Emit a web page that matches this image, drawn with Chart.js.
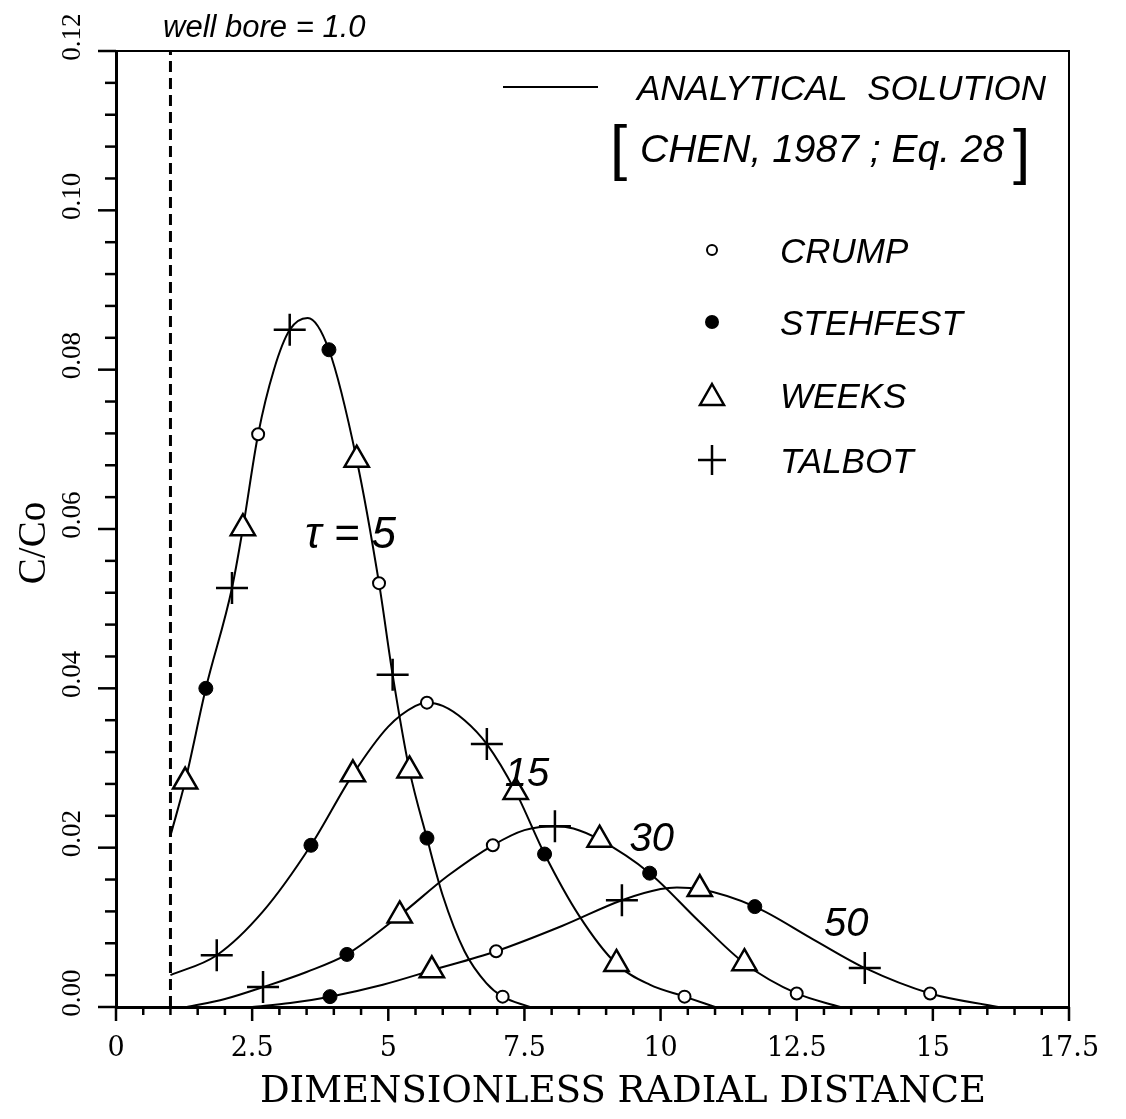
<!DOCTYPE html>
<html><head><meta charset="utf-8">
<script src="https://cdn.jsdelivr.net/npm/chart.js@4.4.0/dist/chart.umd.min.js"></script>
<style>html,body{margin:0;padding:0;background:#fff;}canvas{display:block;}</style>
</head><body>
<canvas id="c" width="1126" height="1119"></canvas>
<script>
// ---- tick labels ----
const xTickLabels = ['0','2.5','5','7.5','10','12.5','15','17.5'];
const yTickLabels = ['0.00','0.02','0.04','0.06','0.08','0.10','0.12'];
const xTitle = 'DIMENSIONLESS RADIAL DISTANCE';
const yTitle = 'C/Co';
const curveLabels = ['\u03C4 = 5','15','30','50'];
const curveLabelX = [3.47, 7.14, 9.43, 13.0];
const curveLabelY = [0.0592, 0.0291, 0.0210, 0.0103];
const wellBoreX = 1.0;

// ---- analytical solution curves ----
const tau5X  = [1.0, 1.27, 1.65, 2.13, 2.33, 2.61, 2.9, 3.19, 3.52, 3.91, 4.42, 4.83, 5.08, 5.39, 5.71, 6.0, 6.4, 6.8, 7.1, 7.6];
const tau5Y  = [0.0215, 0.0283, 0.0400, 0.0526, 0.0601, 0.0719, 0.0800, 0.0850, 0.0865, 0.0825, 0.0687, 0.0532, 0.0417, 0.0297, 0.0212, 0.0140, 0.0070, 0.0030, 0.0013, 0.0];
const tau15X = [1.0, 1.85, 2.7, 3.58, 4.35, 5.0, 5.5, 5.71, 6.0, 6.4, 6.81, 7.34, 7.87, 8.5, 9.19, 9.8, 10.44, 11.0];
const tau15Y = [0.0040, 0.0065, 0.0120, 0.0203, 0.0292, 0.0352, 0.0378, 0.0382, 0.0378, 0.0360, 0.0330, 0.0270, 0.0192, 0.0115, 0.0054, 0.0028, 0.0013, 0.0];
const tau30X = [1.3, 2.0, 2.70, 3.5, 4.24, 5.21, 6.1, 6.92, 7.5, 8.06, 8.4, 8.88, 9.80, 10.7, 11.54, 12.5, 13.3];
const tau30Y = [0.0, 0.0010, 0.0025, 0.0044, 0.0066, 0.0115, 0.0165, 0.0203, 0.0222, 0.0227, 0.0224, 0.0210, 0.0168, 0.0108, 0.0055, 0.0017, 0.0];
const tau50X = [2.5, 3.2, 3.93, 4.9, 5.8, 6.98, 8.2, 9.29, 10.0, 10.3, 10.72, 11.73, 12.8, 13.75, 14.95, 16.2];
const tau50Y = [0.0, 0.0005, 0.0013, 0.0028, 0.0046, 0.0070, 0.0102, 0.0134, 0.0148, 0.0150, 0.0148, 0.0126, 0.0085, 0.0049, 0.0017, 0.0];

// ---- numerical inversion points ----
const crumpX    = [2.61, 4.83, 7.1, 5.71, 10.44, 6.92, 12.5, 6.98, 14.95];
const crumpY    = [0.0719, 0.0532, 0.0013, 0.0382, 0.0013, 0.0203, 0.0017, 0.0070, 0.0017];
const stehfestX = [1.65, 3.91, 5.71, 3.58, 7.87, 4.24, 9.80, 3.93, 11.73];
const stehfestY = [0.0400, 0.0825, 0.0212, 0.0203, 0.0192, 0.0066, 0.0168, 0.0013, 0.0126];
const weeksX    = [1.27, 2.33, 4.42, 5.39, 4.35, 7.34, 9.19, 5.21, 8.88, 11.54, 5.8, 10.72];
const weeksY    = [0.0283, 0.0601, 0.0687, 0.0297, 0.0292, 0.0270, 0.0054, 0.0115, 0.0210, 0.0055, 0.0046, 0.0148];
const talbotX   = [2.13, 3.19, 5.08, 1.85, 6.81, 2.70, 8.06, 9.29, 13.75];
const talbotY   = [0.0526, 0.0850, 0.0417, 0.0065, 0.0330, 0.0025, 0.0227, 0.0134, 0.0049];

const legendNames = ['CRUMP','STEHFEST','WEEKS','TALBOT'];

function pts(xs, ys){ return xs.map((x,i)=>({x:x, y:ys[i]})); }

const SERIF_WIDE = '"DejaVu Serif", "Liberation Serif", serif';
const SERIF = '"Liberation Serif", "DejaVu Serif", serif';
const SANS = '"Liberation Sans", "DejaVu Sans", sans-serif';

const lineDs = (xs, ys) => ({
  type:'line', data: pts(xs, ys), borderColor:'#000', borderWidth:2, pointRadius:0,
  cubicInterpolationMode:'monotone', fill:false, order:2
});

const figurePlugin = {
  id:'figure',
  afterDraw(chart){
    const ctx = chart.ctx, a = chart.chartArea;
    const xs = chart.scales.x, ys = chart.scales.y;
    ctx.save();
    // frame top / right
    ctx.strokeStyle = '#000'; ctx.lineWidth = 2;
    ctx.beginPath();
    ctx.moveTo(a.left, a.top); ctx.lineTo(a.right, a.top); ctx.lineTo(a.right, a.bottom);
    ctx.stroke();
    // tick marks x
    ctx.lineWidth = 2.5;
    for (let k = 0; k <= 35; k++) {
      const p = xs.getPixelForValue(k * 0.5);
      const len = (k % 5 === 0) ? 14 : 8;
      ctx.beginPath(); ctx.moveTo(p, a.bottom); ctx.lineTo(p, a.bottom + len); ctx.stroke();
    }
    // tick marks y
    for (let k = 0; k <= 30; k++) {
      const p = ys.getPixelForValue(k * 0.004);
      const len = (k % 5 === 0) ? 18 : 11;
      ctx.beginPath(); ctx.moveTo(a.left, p); ctx.lineTo(a.left - len, p); ctx.stroke();
    }
    ctx.fillStyle = '#000';
    // y tick labels (rotated)
    ctx.font = '27px ' + SERIF;
    ctx.textAlign = 'center'; ctx.textBaseline = 'middle';
    yTickLabels.forEach((t, i) => {
      const p = ys.getPixelForValue(i * 0.02) - 14;
      ctx.save(); ctx.translate(73, p); ctx.rotate(-Math.PI/2); ctx.fillText(t, 0, 0); ctx.restore();
    });
    // axis titles
    ctx.font = '37px ' + SERIF_WIDE;
    ctx.fillText(xTitle, 623, 1092);
    ctx.save(); ctx.translate(35, 543); ctx.rotate(-Math.PI/2);
    ctx.font = '39px ' + SERIF; ctx.fillText(yTitle, 0, 0); ctx.restore();
    // well bore label
    ctx.font = 'italic 31px ' + SANS;
    ctx.textAlign = 'left'; ctx.textBaseline = 'alphabetic';
    ctx.fillText('well bore = 1.0', 163, 37);
    // legend: analytical solution
    ctx.lineWidth = 2;
    ctx.beginPath(); ctx.moveTo(503, 87); ctx.lineTo(598, 87); ctx.stroke();
    ctx.font = 'italic 35px ' + SANS;
    ctx.fillText('ANALYTICAL  SOLUTION', 637, 100);
    ctx.font = 'italic 39px ' + SANS;
    ctx.fillText('CHEN, 1987 ; Eq. 28', 640, 162);
    ctx.font = '62px ' + SANS;
    ctx.fillText('[', 610, 168);
    ctx.fillText(']', 1013, 172);
    // legend markers
    const lx = 712, ly = [250, 322, 395, 460];
    ctx.font = 'italic 35px ' + SANS;
    legendNames.forEach((n, i) => { ctx.fillText(n, 780, ly[i] + 13); });
    ctx.lineWidth = 2;
    ctx.beginPath(); ctx.arc(lx, ly[0], 5, 0, Math.PI*2); ctx.stroke();
    ctx.beginPath(); ctx.arc(lx, ly[1], 7, 0, Math.PI*2); ctx.fill();
    ctx.lineWidth = 2.5;
    ctx.beginPath(); ctx.moveTo(lx, ly[2]-11); ctx.lineTo(lx+12, ly[2]+10); ctx.lineTo(lx-12, ly[2]+10); ctx.closePath(); ctx.stroke();
    ctx.beginPath(); ctx.moveTo(lx-14, ly[3]); ctx.lineTo(lx+14, ly[3]); ctx.moveTo(lx, ly[3]-15); ctx.lineTo(lx, ly[3]+15); ctx.stroke();
    // curve labels
    ctx.textBaseline = 'middle';
    curveLabels.forEach((t, i) => {
      ctx.font = 'italic ' + (i === 0 ? 44 : 40) + 'px ' + SANS;
      ctx.fillText(t, xs.getPixelForValue(curveLabelX[i]), ys.getPixelForValue(curveLabelY[i]));
    });
    ctx.restore();
  }
};

new Chart(document.getElementById('c'), {
  type:'scatter',
  data:{ datasets:[
    lineDs(tau5X, tau5Y), lineDs(tau15X, tau15Y), lineDs(tau30X, tau30Y), lineDs(tau50X, tau50Y),
    { type:'line', data: pts([wellBoreX, wellBoreX], [0, 0.12]), borderColor:'#000', borderWidth:3,
      borderDash:[11,6], pointRadius:0, order:3 },
    { label:'CRUMP', data: pts(crumpX, crumpY), pointStyle:'circle', pointRadius:6,
      backgroundColor:'#fff', borderColor:'#000', borderWidth:2, order:0 },
    { label:'STEHFEST', data: pts(stehfestX, stehfestY), pointStyle:'circle', pointRadius:7,
      backgroundColor:'#000', borderColor:'#000', borderWidth:1, order:0 },
    { label:'WEEKS', data: pts(weeksX, weeksY), pointStyle:'triangle', pointRadius:14,
      backgroundColor:'#fff', borderColor:'#000', borderWidth:2.5, order:0 },
    { label:'TALBOT', data: pts(talbotX, talbotY), pointStyle:'cross', pointRadius:16,
      borderColor:'#000', borderWidth:2.5, order:0 }
  ]},
  options:{
    responsive:false, animation:false,
    layout:{ padding:{ left:0, right:57, top:51, bottom:0 } },
    plugins:{ legend:{display:false}, tooltip:{enabled:false} },
    scales:{
      x:{ type:'linear', min:0, max:17.5,
        afterBuildTicks(s){ s.ticks = xTickLabels.map((t,i)=>({value:i*2.5})); },
        ticks:{ callback:(v,i)=>xTickLabels[i], color:'#000', font:{family:SERIF_WIDE, size:27}, padding:26, maxRotation:0 },
        grid:{ display:false, drawTicks:false },
        border:{ display:true, color:'#000', width:3 },
        title:{ display:false, text:xTitle },
        afterFit(s){ s.height = 112; } },
      y:{ type:'linear', min:0, max:0.12,
        ticks:{ display:false },
        grid:{ display:false, drawTicks:false },
        border:{ display:true, color:'#000', width:3 },
        title:{ display:false, text:yTitle },
        afterFit(s){ s.width = 116; } }
    }
  },
  plugins:[figurePlugin]
});
</script>
</body></html>
